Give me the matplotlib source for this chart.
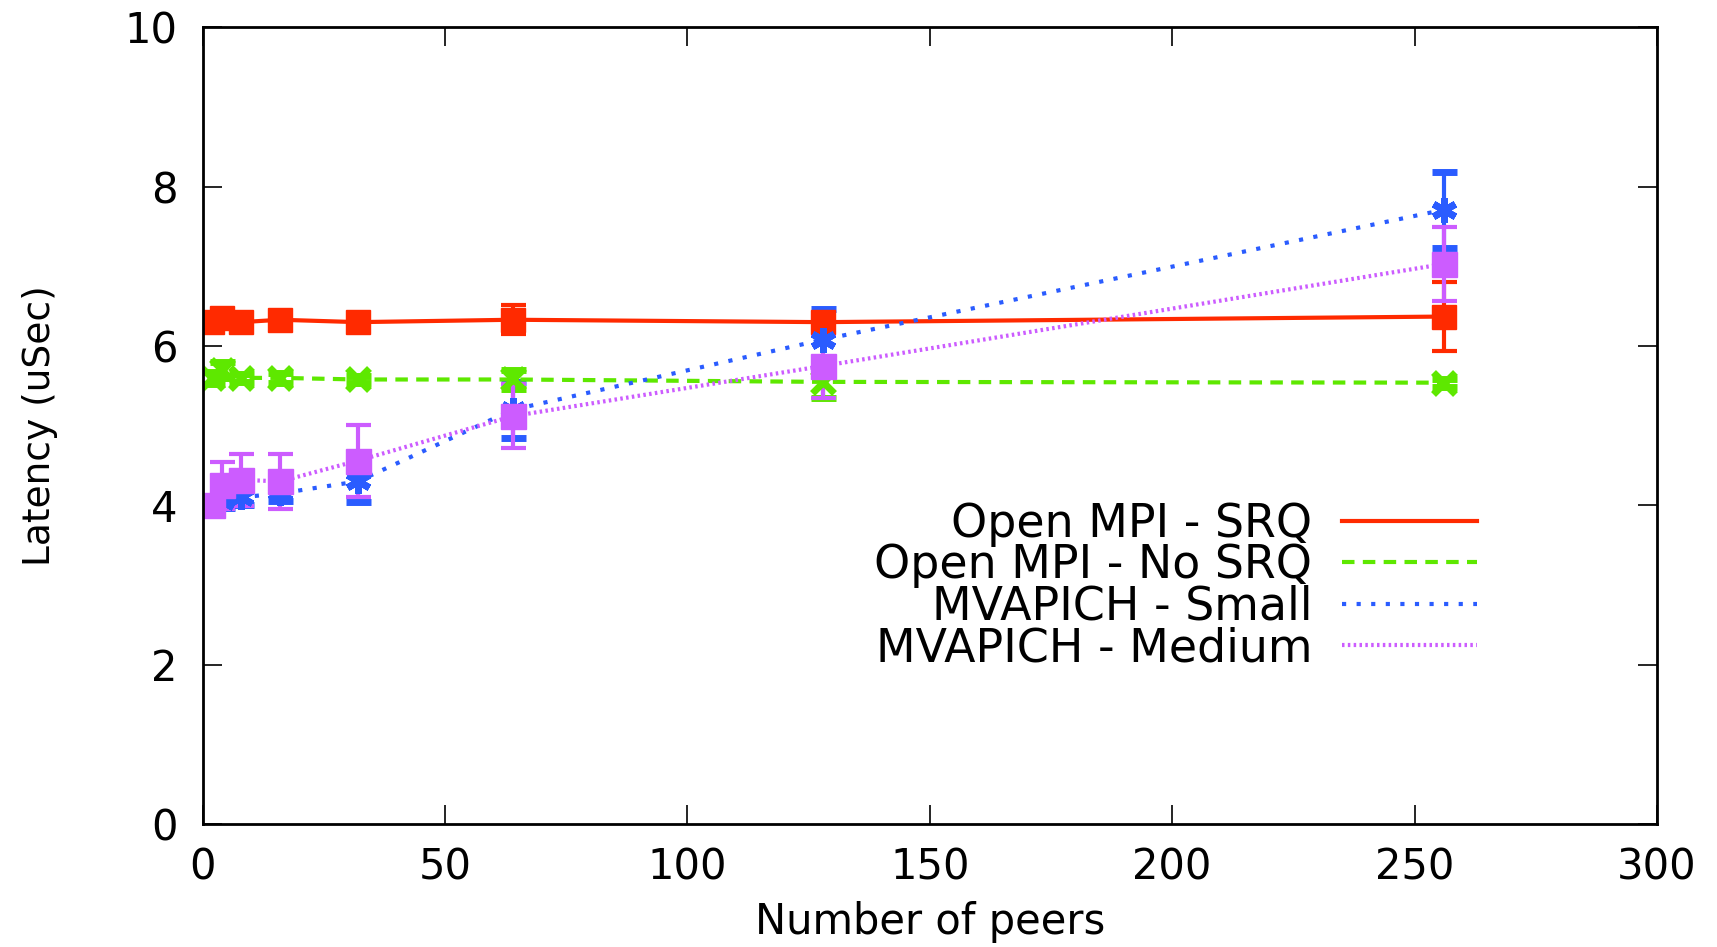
import numpy as np
import matplotlib
matplotlib.use("Agg")
import matplotlib.pyplot as plt
from matplotlib.lines import Line2D

plt.rcParams['font.family'] = ['DejaVu Sans']

peers = [2, 4, 8, 16, 32, 64, 128, 256]

srq = [6.30, 6.35, 6.30, 6.33, 6.30, 6.33, 6.30, 6.37]
srq_err = [0.05, 0.06, 0.04, 0.04, 0.05, 0.18, 0.05, 0.43]

nosrq = [5.60, 5.70, 5.60, 5.60, 5.58, 5.58, 5.55, 5.54]
nosrq_err = [0.08, 0.10, 0.05, 0.06, 0.05, 0.12, 0.20, 0.05]

small = [4.00, 4.05, 4.10, 4.15, 4.30, 5.20, 6.08, 7.71]
small_err = [0.05, 0.08, 0.10, 0.10, 0.26, 0.35, 0.38, 0.48]

medium = [4.00, 4.25, 4.32, 4.30, 4.56, 5.12, 5.75, 7.03]
medium_err = [0.05, 0.30, 0.33, 0.35, 0.45, 0.40, 0.40, 0.47]

names = ['Open MPI - SRQ', 'Open MPI - No SRQ', 'MVAPICH - Small', 'MVAPICH - Medium']
colors = ['#ff2a00', '#5ee800', '#2a5cff', '#cc5cff']
styles = ['-', (0, (3, 2)), (0, (1, 2.5)), (0, (0.6, 0.8))]

fig = plt.figure(figsize=(17.17, 9.47), dpi=100)
ax = fig.add_axes([0.118, 0.130, 0.847, 0.841])

ax.errorbar(peers, srq, yerr=srq_err, color=colors[0], lw=3, ls=styles[0],
            marker='s', ms=17, capsize=9, capthick=3, elinewidth=3)
ax.errorbar(peers, nosrq, yerr=nosrq_err, color=colors[1], lw=3, ls=styles[1],
            marker='x', ms=16, mew=5, capsize=9, capthick=3, elinewidth=3)
ax.errorbar(peers, small, yerr=small_err, color=colors[2], lw=3, ls=styles[2],
            marker=(6, 2, 0), ms=18, mew=5, capsize=9, capthick=3, elinewidth=3)
ax.errorbar(peers, medium, yerr=medium_err, color=colors[3], lw=3, ls=styles[3],
            marker='s', ms=18, capsize=9, capthick=3, elinewidth=3)

ax.set_xlim(0, 300)
ax.set_ylim(0, 10)
ax.set_xticks([0, 50, 100, 150, 200, 250, 300])
ax.set_yticks([0, 2, 4, 6, 8, 10])
ax.tick_params(direction='in', length=14, width=1.2, labelsize=30,
               top=True, right=True)
ax.tick_params(axis='x', pad=16)
ax.tick_params(axis='y', pad=18)
for s in ax.spines.values():
    s.set_linewidth(2)
ax.set_xlabel('Number of peers', fontsize=30, labelpad=9)
ax.set_ylabel('Latency (uSec)', fontsize=27, labelpad=48)

handles = [Line2D([], [], color=c, lw=3, ls=st) for c, st in zip(colors, styles)]
ax.legend(handles, names, loc='center right', bbox_to_anchor=(0.905, 0.298),
          frameon=False, markerfirst=False, fontsize=33, handlelength=2.95,
          labelspacing=-0.08, handletextpad=0.65)

fig.savefig('out.png', dpi=100)
